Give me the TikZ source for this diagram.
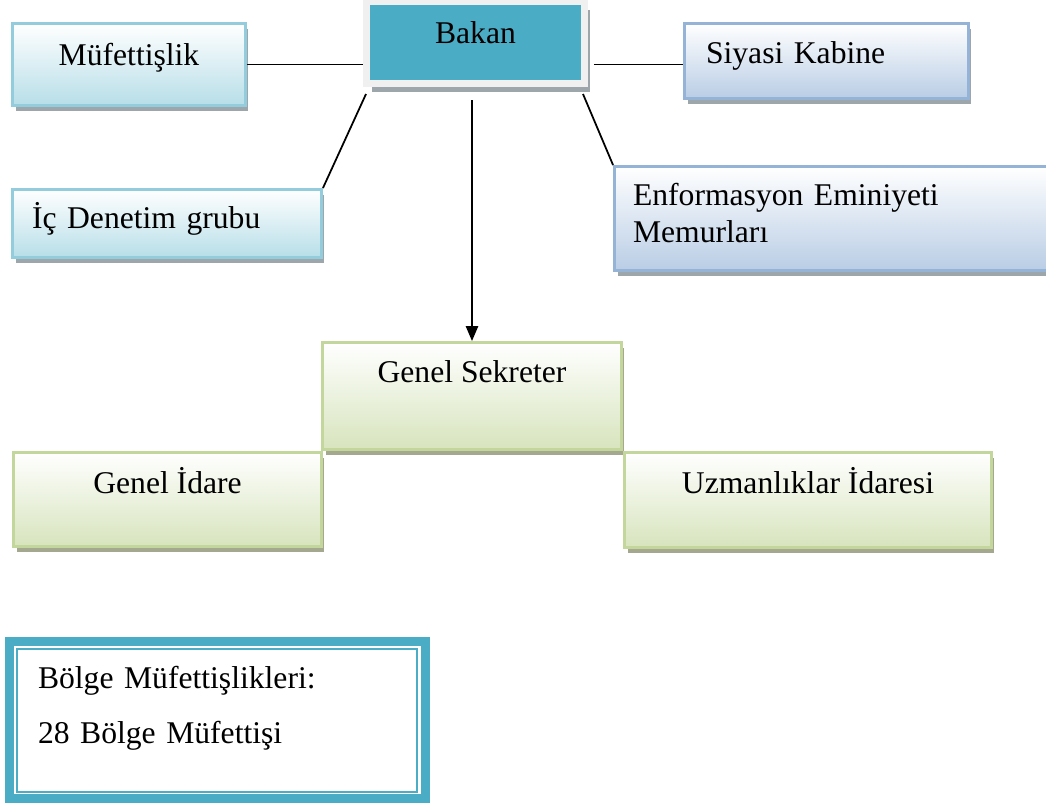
\documentclass[tikz,border=0pt]{standalone}
\usepackage{fontspec}
\setmainfont{Liberation Serif}
\usetikzlibrary{arrows.meta,calc,positioning,shadows}

\definecolor{bakanteal}{HTML}{4BACC6}
\definecolor{bakanframe}{HTML}{F0F0F0}
\definecolor{aqualine}{HTML}{93CDDD}
\definecolor{aquafill}{HTML}{B7DEE8}
\definecolor{steelline}{HTML}{95B3D7}
\definecolor{steelfill}{HTML}{B9CDE5}
\definecolor{oliveline}{HTML}{C3D69B}
\definecolor{olivefill}{HTML}{D7E4BD}
\definecolor{shadegray}{HTML}{9CA6AB}
\definecolor{shadeolive}{HTML}{A3A88F}

\tikzset{
  orgbox/.style={rectangle, line width=1.7pt, inner sep=0pt,
    font=\fontsize{18}{21.6}\selectfont},
  blueshadow/.style={drop shadow={shadow xshift=1.7pt, shadow yshift=-3.4pt,
    fill=shadegray, opacity=1}},
  aquabox/.style={orgbox, blueshadow, draw=aqualine, top color=white, bottom color=aquafill},
  steelbox/.style={orgbox, blueshadow, draw=steelline, top color=white, bottom color=steelfill},
  olivebox/.style={orgbox, draw=oliveline, top color=white, bottom color=olivefill,
    drop shadow={shadow xshift=1.7pt, shadow yshift=-3.4pt, fill=shadeolive, opacity=1}},
  leftbox/.style={align=left},
  link/.style={line width=1pt},
}

\begin{document}
\begin{tikzpicture}[x=0.02cm, y=-0.02cm, >=Latex]
		
		\useasboundingbox (0,0) rectangle (1046,805);
		\clip (0,0) rectangle (1046,805);
		
		% top row
		\node[orgbox, draw=bakanframe, fill=bakanteal, line width=4pt,
			drop shadow={shadow xshift=3.1pt, shadow yshift=-4.8pt, fill=shadegray, opacity=1},
			minimum width=4.36cm, minimum height=1.64cm,
			text height=0.83cm, text depth=0.81cm] (bakan) at (475.5,42.5) {Bakan};
		
		\node[aquabox, minimum width=4.66cm, minimum height=1.64cm,
			text height=0.83cm, text depth=0.81cm] (muf) at (129,64.5) {Müfettişlik};
		
		\node[steelbox, leftbox, minimum width=5.68cm, minimum height=1.5cm,
			inner xsep=0.43cm, text width=4.82cm,
			text height=0.79cm, text depth=0.71cm] (siy) at (826.5,61) {Siyasi Kabine};
		
		% second row
		\node[aquabox, leftbox, minimum width=6.18cm, minimum height=1.36cm,
			inner xsep=0.39cm, text width=5.4cm,
			text height=0.77cm, text depth=0.59cm] (ic) at (167,223.5) {İç Denetim grubu};
		
		\node[steelbox, leftbox, minimum width=9.11cm, minimum height=2.08cm,
			inner xsep=0.37cm, text width=8.37cm,
			text height=0.77cm, text depth=1.31cm] (enf) at (842.25,218.5)
			{Enformasyon Eminiyeti\\Memurları};
		
		% secretariat
		\node[olivebox, minimum width=5.98cm, minimum height=2.14cm,
			text height=0.79cm, text depth=1.35cm] (gs) at (472,396) {Genel Sekreter};
		
		\node[olivebox, minimum width=6.16cm, minimum height=1.88cm,
			text height=0.81cm, text depth=1.07cm] (gi) at (167.5,499.5) {Genel İdare};
		
		\node[olivebox, minimum width=7.34cm, minimum height=1.9cm,
			text height=0.81cm, text depth=1.09cm] (uz) at (808,500) {Uzmanlıklar İdaresi};
		
		% regional box
		\node[orgbox, leftbox, draw=bakanteal, line width=5.1pt, outer sep=0pt,
			minimum width=8.32cm, minimum height=3.15cm,
			inner xsep=0.57cm, text width=7.18cm,
			text height=0.94cm, text depth=2.21cm] (bolge) at (217.5,719.75)
			{Bölge Müfettişlikleri:\\[9.7pt]28 Bölge Müfettişi};
		\draw[bakanteal, line width=1.1pt] ($(bolge.north west)+(7.5,8)$)
			rectangle ($(bolge.south east)+(-8.5,-6.5)$);
		
		% links
		\draw[link] (muf.east) -- (muf.east -| bakan.west);
		\draw[link] ($(muf.east -| bakan.east)+(6,0)$) -- (muf.east -| siy.west);
		\draw[link] ($(bakan.south west)+(3,7)$) -- (ic.north east);
		\draw[link] ($(bakan.south east)+(-5,7)$) -- (enf.north west);
		\draw[link, -{Triangle[length=8.5pt, width=7pt]}]
			($(bakan.south -| gs.north)+(0,13)$) -- (gs.north);
		
	\end{tikzpicture}
\end{document}
